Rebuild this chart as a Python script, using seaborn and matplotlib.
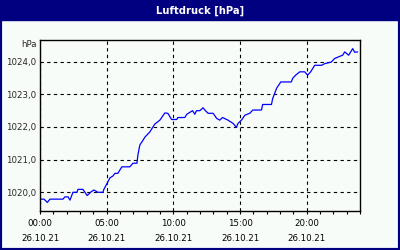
import matplotlib
matplotlib.use("Agg")
import matplotlib.pyplot as plt
import seaborn as sns
import pandas as pd
from matplotlib.patches import Rectangle

# Data (time in hours since 26.10.21 00:00, pressure in hPa)
hours = [0.0, 0.30, 0.55, 0.75, 1.72, 1.87, 2.10, 2.25, 2.47, 2.77, 2.85, 3.22, 3.54, 3.82,
         4.04, 4.34, 4.72, 4.79, 5.04, 5.24, 5.47, 5.62, 5.84, 5.99, 6.14, 6.74, 6.97, 7.27,
         7.34, 7.49, 7.64, 7.87, 8.24, 8.61, 8.99, 9.21, 9.36, 9.59, 9.87, 10.26, 10.34,
         10.86, 11.01, 11.44, 11.61, 11.74, 11.99, 12.23, 12.36, 12.61, 12.98, 13.26, 13.48,
         13.69, 14.10, 14.48, 14.73, 14.85, 15.11, 15.36, 15.73, 15.96, 16.61, 16.70, 17.36,
         17.45, 17.60, 17.75, 17.98, 18.05, 18.85, 18.95, 19.18, 19.48, 19.85, 20.07, 20.30,
         20.45, 20.60, 21.12, 21.35, 21.85, 22.10, 22.70, 22.85, 23.15, 23.45, 23.60, 23.82]
pressure = [1019.79, 1019.79, 1019.69, 1019.79, 1019.79, 1019.86, 1019.86, 1019.76, 1020.00,
            1020.00, 1020.09, 1020.09, 1019.90, 1020.01, 1020.07, 1020.00, 1020.00, 1020.09,
            1020.28, 1020.44, 1020.50, 1020.58, 1020.58, 1020.68, 1020.78, 1020.78, 1020.89,
            1020.89, 1021.14, 1021.45, 1021.54, 1021.69, 1021.85, 1022.09, 1022.21, 1022.34,
            1022.43, 1022.42, 1022.23, 1022.23, 1022.29, 1022.29, 1022.39, 1022.50, 1022.39,
            1022.50, 1022.50, 1022.59, 1022.52, 1022.42, 1022.42, 1022.26, 1022.21, 1022.29,
            1022.21, 1022.11, 1021.99, 1022.11, 1022.21, 1022.36, 1022.42, 1022.52, 1022.52,
            1022.69, 1022.69, 1022.87, 1023.03, 1023.19, 1023.33, 1023.38, 1023.38, 1023.49,
            1023.59, 1023.69, 1023.69, 1023.59, 1023.69, 1023.79, 1023.89, 1023.89, 1023.94,
            1023.99, 1024.10, 1024.20, 1024.30, 1024.20, 1024.40, 1024.29, 1024.30]

x_ticks = [0, 5, 10, 15, 20]
x_tick_labels = ["00:00\n26.10.21", "05:00\n26.10.21", "10:00\n26.10.21",
                 "15:00\n26.10.21", "20:00\n26.10.21"]
y_ticks = [1020, 1021, 1022, 1023, 1024]
y_tick_labels = ["1020,0", "1021,0", "1022,0", "1023,0", "1024,0"]
title = "Luftdruck [hPa]"
unit = "hPa"

df = pd.DataFrame({"h": hours, "p": pressure})

sns.set_style("white")
plt.rcParams["font.family"] = ["DejaVu Sans"]

W, H = 400, 250
fig = plt.figure(figsize=(W / 100, H / 100), dpi=100)
bg = "#f8fcf8"
navy = "#000080"
fig.patch.set_facecolor(bg)

# frame and title bar
fig.patches.append(Rectangle((0, 0), 1, 1, transform=fig.transFigure, fill=False,
                             edgecolor=navy, linewidth=3, zorder=0))
fig.patches.append(Rectangle((0, 1 - 20 / H), 1, 20 / H, transform=fig.transFigure,
                             facecolor=navy, edgecolor=navy, zorder=1))
fig.text(0.5, 1 - 10.5 / H, title, color="white", fontweight="bold", fontsize=7.2,
         ha="center", va="center")

ax = fig.add_axes([40 / W, 1 - 210.7 / H, 320 / W, 170.7 / H])
ax.set_facecolor(bg)
sns.lineplot(data=df, x="h", y="p", ax=ax, color="#0000ff", linewidth=0.9)

ax.set_xlim(0, 24)
ax.set_ylim(1019.436, 1024.665)
ax.set_xticks(x_ticks)
ax.set_xticklabels(x_tick_labels, fontsize=6.2, linespacing=1.9)
ax.set_xticks(list(range(0, 25)), minor=True)
ax.set_yticks(y_ticks)
ax.set_yticklabels(y_tick_labels, fontsize=6.2)
ax.set_xlabel("")
ax.set_ylabel("")
ax.tick_params(axis="x", which="both", direction="out", length=2, width=0.8, pad=4,
               colors="black", bottom=True)
ax.tick_params(axis="y", length=0, pad=3)
for s in ax.spines.values():
    s.set_visible(True)
    s.set_color("black")
    s.set_linewidth(1.0)
ax.grid(True, which="major", color="black", linestyle=(0, (3, 3)), linewidth=0.8)
ax.set_axisbelow(True)

fig.text(37 / W, 1 - 44.5 / H, unit, fontsize=6.2, ha="right", va="center")

fig.savefig("out.png", dpi=100, facecolor=bg)
